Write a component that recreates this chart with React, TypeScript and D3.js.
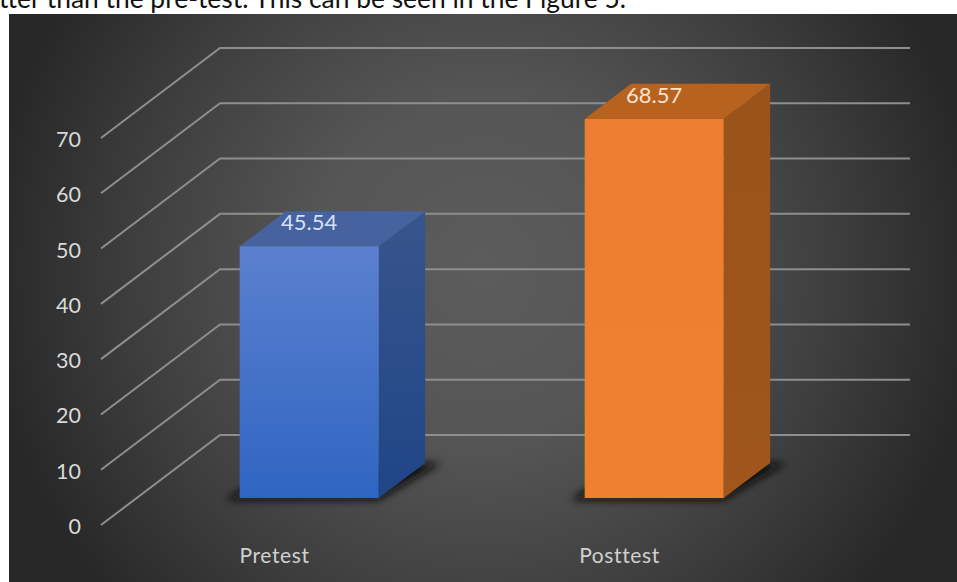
import { useEffect, useRef } from 'react';
import * as d3 from 'd3';

const categories = ['Pretest', 'Posttest'];
const scores = [45.54, 68.57];
const tickValues = [0, 10, 20, 30, 40, 50, 60, 70];
const captionText = 'tter than the pre-test. This can be seen in the Figure 5.';

const barColors = [
  { frontTop: '#5c80cf', frontBottom: '#2f65c2', top: '#46629f', sideTop: '#38558c', sideBottom: '#1f4587' },
  { frontTop: '#ed7d31', frontBottom: '#ee8130', top: '#b8621f', sideTop: '#99531b', sideBottom: '#a0561d' },
];

const font = 'Lato, "Open Sans", sans-serif';

export default function App() {
  const svgRef = useRef<SVGSVGElement>(null);

  useEffect(() => {
    if (!svgRef.current) return;
    const svg = d3.select(svgRef.current);
    svg.selectAll('*').remove();

    const defs = svg.append('defs');

    // Panel background
    const bg = defs
      .append('radialGradient')
      .attr('id', 'panel-bg')
      .attr('gradientUnits', 'userSpaceOnUse')
      .attr('cx', 483)
      .attr('cy', 270)
      .attr('r', 500);
    bg.append('stop').attr('offset', '0%').attr('stop-color', '#5c5c5c');
    bg.append('stop').attr('offset', '35%').attr('stop-color', '#555555');
    bg.append('stop').attr('offset', '70%').attr('stop-color', '#3e3e3e');
    bg.append('stop').attr('offset', '100%').attr('stop-color', '#272727');

    defs
      .append('filter')
      .attr('id', 'shadow-blur')
      .attr('x', '-20%')
      .attr('y', '-20%')
      .attr('width', '140%')
      .attr('height', '140%')
      .append('feGaussianBlur')
      .attr('stdDeviation', 4);

    svg
      .append('text')
      .attr('x', -1)
      .attr('y', 8)
      .attr('fill', '#111')
      .attr('font-family', font)
      .attr('font-size', 26.4)
      .text(captionText);

    svg
      .append('rect')
      .attr('x', 9)
      .attr('y', 14)
      .attr('width', 948)
      .attr('height', 568)
      .attr('fill', 'url(#panel-bg)');

    // Scales, front plane of the floor
    const yScale = d3.scaleLinear().domain([0, 70]).range([525, 138]);
    const xScale = d3.scaleBand<string>().domain(categories).range([101, 791]).paddingInner(0.597).paddingOuter(0.2985);

    // depth 0 = front edge, depth 1 = back wall
    const project = (x: number, value: number, depth: number): [number, number] => [
      x + 119 * depth,
      yScale(value) - 90 * depth,
    ];
    const line = d3.line<[number, number]>();

    // Gridlines
    const gridG = svg.append('g').attr('fill', 'none').attr('stroke', '#8e8e8e').attr('stroke-width', 2);
    tickValues.forEach((t) => {
      gridG
        .append('path')
        .attr('d', line([project(101, t, 0), project(101, t, 1), project(791, t, 1)]));
    });

    // Y axis labels
    svg
      .append('g')
      .selectAll('text')
      .data(tickValues)
      .join('text')
      .attr('x', 81)
      .attr('y', (d) => yScale(d) + 9)
      .attr('text-anchor', 'end')
      .attr('fill', '#d9d9d9')
      .attr('font-family', font)
      .attr('font-size', 21.5)
      .text((d) => d);

    const d0 = 0.3;
    const d1 = 0.69;

    categories.forEach((cat, i) => {
      const x0 = xScale(cat) ?? 0;
      const x1 = x0 + xScale.bandwidth();
      const v = scores[i];
      const c = barColors[i];

      const front = defs.append('linearGradient').attr('id', `front-${i}`).attr('x1', 0).attr('y1', 0).attr('x2', 0).attr('y2', 1);
      front.append('stop').attr('offset', '0%').attr('stop-color', c.frontTop);
      front.append('stop').attr('offset', '100%').attr('stop-color', c.frontBottom);
      const side = defs.append('linearGradient').attr('id', `side-${i}`).attr('x1', 0).attr('y1', 0).attr('x2', 0).attr('y2', 1);
      side.append('stop').attr('offset', '0%').attr('stop-color', c.sideTop);
      side.append('stop').attr('offset', '100%').attr('stop-color', c.sideBottom);

      const g = svg.append('g');

      // Floor shadow
      g.append('path')
        .attr('filter', 'url(#shadow-blur)')
        .attr('fill', '#0c0c0c')
        .attr('d', line([
          project(x0 - 12, 0, d0 - 0.02),
          project(x1 + 2, 0, d0 - 0.02),
          project(x1 + 16, 0, d1),
          project(x0, 0, d1),
        ]) + 'Z');

      // Side face
      g.append('path')
        .attr('fill', `url(#side-${i})`)
        .attr('d', line([project(x1, 0, d0), project(x1, 0, d1), project(x1, v, d1), project(x1, v, d0)]) + 'Z');

      // Top face
      g.append('path')
        .attr('fill', c.top)
        .attr('d', line([project(x0, v, d0), project(x1, v, d0), project(x1, v, d1), project(x0, v, d1)]) + 'Z');

      // Front face
      g.append('path')
        .attr('fill', `url(#front-${i})`)
        .attr('d', line([project(x0, 0, d0), project(x1, 0, d0), project(x1, v, d0), project(x0, v, d0)]) + 'Z');

      // Value label
      const [lx, ly] = project((x0 + x1) / 2, v, d0);
      g.append('text')
        .attr('x', lx)
        .attr('y', ly - 16)
        .attr('text-anchor', 'middle')
        .attr('fill', i === 0 ? '#d6e0f5' : '#fbe3d0')
        .attr('font-family', font)
        .attr('font-size', 22)
        .text(v);

      // Category label
      svg
        .append('text')
        .attr('x', (x0 + x1) / 2 + 1)
        .attr('y', 563)
        .attr('text-anchor', 'middle')
        .attr('fill', '#d0d0d0')
        .attr('font-family', font)
        .attr('font-size', 21)
        .attr('letter-spacing', 0.6)
        .text(cat);
    });
  }, []);

  return <svg ref={svgRef} width={957} height={582} style={{ position: 'absolute', left: 0, top: 0, background: '#fff' }} />;
}
